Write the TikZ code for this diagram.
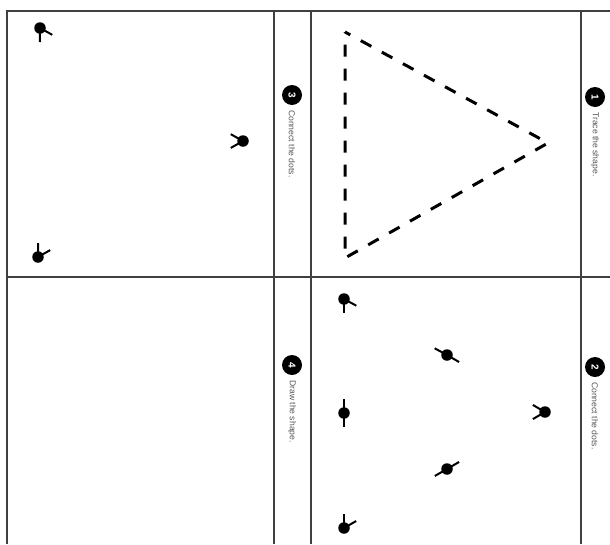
\documentclass[tikz,border=0pt]{standalone}
\usepackage{fontspec}
\setsansfont{Liberation Sans}
\usetikzlibrary{calc}
\tikzset{
  frameline/.style={draw=black!75, line width=2.4pt},
  dotnode/.style={circle, fill=black, inner sep=0pt, minimum size=11.5pt},
  tail/.style={draw=black, line width=2pt},
  numbadge/.style={circle, fill=black, text=white, inner sep=0pt, minimum size=20pt, font=\sffamily\bfseries\normalsize, rotate=-90},
  caption/.style={anchor=west, rotate=-90, text=black!65, font=\sffamily\fontsize{8.6}{9}\selectfont, inner sep=0pt},
  dashtri/.style={draw=black, line width=3pt, dash pattern=on 12pt off 12pt, dash phase=6pt}
}
\newcommand{\tails}[3]{%
  \draw[tail] (#1.center) -- ($(#1)!14pt!(#2)$);
  \draw[tail] (#1.center) -- ($(#1)!14pt!(#3)$);}
\begin{document}
\begin{tikzpicture}[x=1pt,y=-1pt]
\useasboundingbox (0,0) rectangle (610,544);
\fill[white] (0,0) rectangle (610,544);
% frame
\draw[frameline] (7,544) -- (7,11) -- (610,11);
\draw[frameline] (7,277) -- (610,277);
\draw[frameline] (274,11) -- (274,544);
\draw[frameline] (311,11) -- (311,544);
\draw[frameline] (581,11) -- (581,544);
% labels
\node[numbadge] (n1) at (595,97) {1};
\node[caption] (c1) at (595,112) {Trace the shape.};
\node[numbadge] (n2) at (595,367) {2};
\node[caption] (c2) at (595,382) {Connect the dots.};
\node[numbadge] (n3) at (292,95) {3};
\node[caption] (c3) at (292,110) {Connect the dots.};
\node[numbadge] (n4) at (292,365) {4};
\node[caption] (c4) at (292,380) {Draw the shape.};
% panel 1: dashed triangle
\coordinate (t1) at (345,32);
\coordinate (t2) at (548,143);
\coordinate (t3) at (345,258);
\draw[dashtri] (t1) -- (t2) -- (t3) -- cycle;
% panel 3: triangle dots
\node[dotnode] (a) at (40,28) {};
\node[dotnode] (b) at (243,141) {};
\node[dotnode] (c) at (38,257) {};
\tails{a}{b}{c}
\tails{b}{a}{c}
\tails{c}{a}{b}
% panel 2: hexagon dots
\node[dotnode] (p1) at (344,299) {};
\node[dotnode] (p2) at (447,355) {};
\node[dotnode] (p3) at (545,412) {};
\node[dotnode] (p4) at (447,469) {};
\node[dotnode] (p5) at (344,528) {};
\node[dotnode] (p6) at (344,413) {};
\tails{p1}{p2}{p6}
\tails{p2}{p1}{p3}
\tails{p3}{p2}{p4}
\tails{p4}{p3}{p5}
\tails{p5}{p4}{p6}
\tails{p6}{p5}{p1}
\end{tikzpicture}
\end{document}
